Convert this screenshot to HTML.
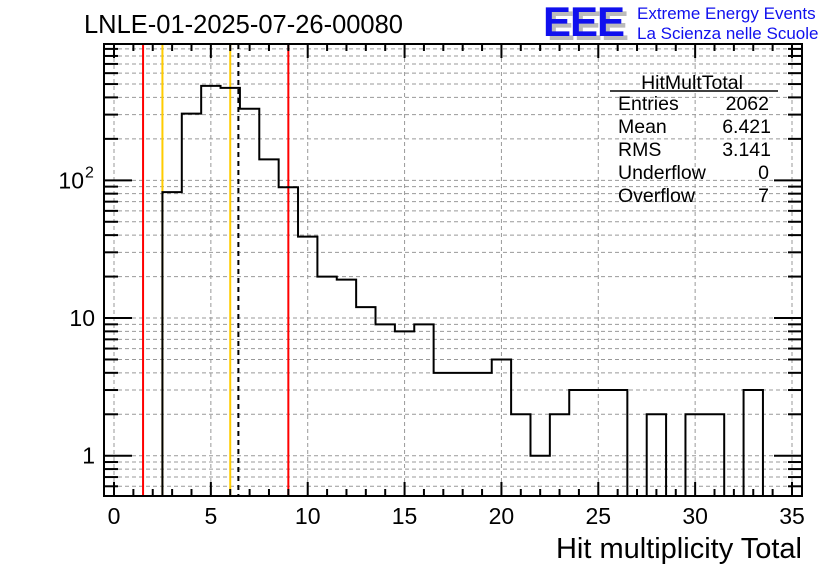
<!DOCTYPE html>
<html><head><meta charset="utf-8"><style>
html,body{margin:0;padding:0;background:#fff;}
svg{display:block;font-family:"Liberation Sans",sans-serif;}
</style></head><body>
<svg id="c" width="836" height="572" viewBox="0 0 836 572">
<rect width="836" height="572" fill="#fff"/>
<text x="84" y="33" font-size="25.5" fill="#000">LNLE-01-2025-07-26-00080</text>
<g>
<text x="547" y="40" font-size="42" font-weight="bold" fill="#bbb" letter-spacing="-1">EEE</text>
<text x="543" y="36" font-size="42" font-weight="bold" fill="#1010ee" letter-spacing="-1">EEE</text>
<text x="637" y="19" font-size="17" fill="#1010ee">Extreme Energy Events</text>
<text x="637" y="39" font-size="17" fill="#1010ee">La Scienza nelle Scuole</text>
</g>
<g id="grid"></g>
<g id="marks"></g>
<g id="axes"></g>
<g font-size="19.5" fill="#000">
<text x="692" y="89" text-anchor="middle" font-size="19.5">HitMultTotal</text>
<line x1="610" y1="91" x2="778" y2="91" stroke="#000" stroke-width="1.5"/>
<text x="618" y="110">Entries</text><text x="769" y="110" text-anchor="end">2062</text>
<text x="618" y="133">Mean</text><text x="771" y="133" text-anchor="end">6.421</text>
<text x="618" y="156">RMS</text><text x="771" y="156" text-anchor="end">3.141</text>
<text x="618" y="179">Underflow</text><text x="769" y="179" text-anchor="end">0</text>
<text x="618" y="202">Overflow</text><text x="769" y="202" text-anchor="end">7</text>
</g>
<text x="802" y="558" text-anchor="end" font-size="29">Hit multiplicity Total</text>
</svg>
<script>
const binCenters=[3,4,5,6,7,8,9,10,11,12,13,14,15,16,17,18,19,20,21,22,23,24,25,26,27,28,29,30,31,32,33,34];
const binCounts=[82,305,485,469,331,142,89,39,20,19,12,9,8,9,4,4,4,5,2,1,2,3,3,3,0,2,0,2,2,0,3,0];
const xTicks=[0,5,10,15,20,25,30,35];
const yTicks=[1,10,100];
const yTickBase=["1","10","10"];
const yTickSup=["","","2"];
const redLines=[1.5,9];
const orangeLines=[2.5,6];
const meanValue=6.421;

const L=104,R=802,T=44,B=496;
const x=v=>114+v*(792-114)/35;
const yMin=0.51,yMax=977;
const y=v=>{if(v<=0)return B;const r=B-(Math.log10(v)-Math.log10(yMin))/(Math.log10(yMax)-Math.log10(yMin))*(B-T);return Math.max(T,Math.min(B,r));};
const NS="http://www.w3.org/2000/svg";
function mk(tag,attrs,parent){const e=document.createElementNS(NS,tag);for(const k in attrs)e.setAttribute(k,attrs[k]);parent.appendChild(e);return e;}
const grid=document.getElementById('grid'),marks=document.getElementById('marks'),axes=document.getElementById('axes');
xTicks.forEach(t=>{const g=mk('line',{x1:x(t),x2:x(t),y1:T,y2:B,stroke:'#999','stroke-dasharray':'4,3','stroke-width':1},grid);

});
const minorY=[];
for(let d=0.1;d<=100;d*=10){for(let k=1;k<10;k++){const v=d*k;if(v>=yMin&&v<=yMax)minorY.push(v);}}
minorY.forEach(v=>{const g=mk('line',{x1:L,x2:R,y1:y(v),y2:y(v),stroke:'#999','stroke-dasharray':'4,3','stroke-width':1},grid);

});
redLines.forEach(v=>{const l=mk('line',{x1:x(v),x2:x(v),y1:T,y2:B,stroke:'#f00','stroke-width':2},marks);

});
orangeLines.forEach(v=>{const l=mk('line',{x1:x(v),x2:x(v),y1:T,y2:B,stroke:'#fc0','stroke-width':2},marks);

});
const ml=mk('line',{x1:x(meanValue),x2:x(meanValue),y1:T,y2:B,stroke:'#000','stroke-width':2,'stroke-dasharray':'5,4'},marks);


let d='M'+x(binCenters[0]-0.5)+','+B;
binCenters.forEach((c,i)=>{const yy=y(binCounts[i]);d+=' L'+x(c-0.5)+','+yy+' L'+x(c+0.5)+','+yy;});
d+=' L'+x(binCenters[binCenters.length-1]+0.5)+','+B;
const h=mk('path',{d:d,fill:'none',stroke:'#000','stroke-width':2},marks);


const fr=mk('rect',{x:L,y:T,width:R-L,height:B-T,fill:'none',stroke:'#000','stroke-width':2},axes);


for(let v=0;v<=35;v++){const major=v%5===0;const len=major?14:7;
mk('line',{x1:x(v),x2:x(v),y1:B,y2:B-len,stroke:'#000','stroke-width':2},axes);
mk('line',{x1:x(v),x2:x(v),y1:T,y2:T+len,stroke:'#000','stroke-width':2},axes);}
xTicks.forEach(t=>{const tx=mk('text',{x:x(t),y:524,'text-anchor':'middle','font-size':23},axes);tx.textContent=t;

});
minorY.forEach(v=>{const major=yTicks.includes(Math.round(v*1000)/1000);const len=major?28:14;
mk('line',{x1:L,x2:L+len,y1:y(v),y2:y(v),stroke:'#000','stroke-width':2},axes);
mk('line',{x1:R,x2:R-len,y1:y(v),y2:y(v),stroke:'#000','stroke-width':2},axes);});
yTicks.forEach((t,i)=>{
const tx=mk('text',{x:yTickSup[i]?84:95,y:y(t)+8,'text-anchor':'end','font-size':23},axes);tx.textContent=yTickBase[i];


if(yTickSup[i]){const s=mk('text',{x:85,y:y(t)-3,'font-size':16},axes);s.textContent=yTickSup[i];

}
});
</script>
</body></html>
